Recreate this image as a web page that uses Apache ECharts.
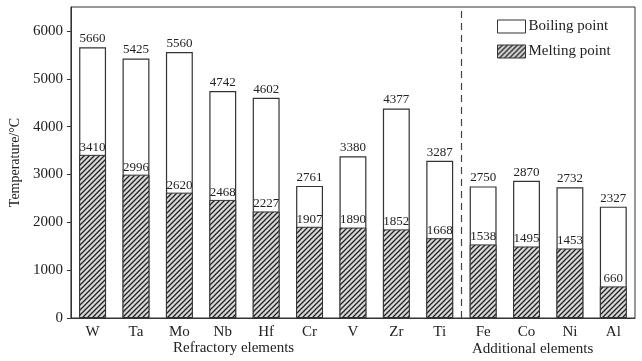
<!DOCTYPE html>
<html><head><meta charset="utf-8">
<script src="https://cdn.jsdelivr.net/npm/echarts@6/dist/echarts.min.js"></script>
<style>html,body{margin:0;padding:0;background:#fff}#c{width:642px;height:361px}</style>
</head><body><div id="c"></div>
<script>
const categories = ['W','Ta','Mo','Nb','Hf','Cr','V','Zr','Ti','Fe','Co','Ni','Al'];
const boiling = [5660,5425,5560,4742,4602,2761,3380,4377,3287,2750,2870,2732,2327];
const melting = [3410,2996,2620,2468,2227,1907,1890,1852,1668,1538,1495,1453,660];
const yTicks = [0,1000,2000,3000,4000,5000,6000];
const groupNames = ['Refractory elements','Additional elements'];
const dividerAt = 9;

const F = '"Liberation Serif", "Times New Roman", serif';
function hatch(){
  const c = document.createElement('canvas');
  c.width = 5; c.height = 5;
  const g = c.getContext('2d');
  g.fillStyle = '#d8d8d8'; g.fillRect(0,0,5,5);
  g.strokeStyle = '#222'; g.lineWidth = 1.3;
  g.beginPath();
  g.moveTo(-1,6); g.lineTo(6,-1);
  g.moveTo(-1,1); g.lineTo(1,-1);
  g.moveTo(4,6); g.lineTo(6,4);
  g.stroke();
  return c;
}
const pat = {image: hatch(), repeat: 'repeat'};

const chart = echarts.init(document.getElementById('c'));
chart.setOption({
  animation:false,
  backgroundColor:'#fff',
  grid:{left:67,right:7,top:7,bottom:43,show:true,borderColor:'#333',borderWidth:1,backgroundColor:'transparent'},
  legend:{
    left:492, top:14, orient:'vertical', itemWidth:28, itemHeight:13, itemGap:10, icon:'rect',
    textStyle:{fontFamily:F,fontSize:15,color:'#222',padding:[0,0,0,-2]},
    data:[{name:'Boiling point',itemStyle:{color:'#fff',borderColor:'#333',borderWidth:1}},
          {name:'Melting point',itemStyle:{color:pat,borderColor:'#333',borderWidth:1}}]
  },
  xAxis:[{
    type:'category', data:categories,
    axisLine:{lineStyle:{color:'#333'}},
    axisTick:{inside:true,length:4,alignWithLabel:true,lineStyle:{color:'#333'}},
    axisLabel:{fontFamily:F,fontSize:15,color:'#222',margin:7}
  },{
    type:'value', min:0, max:categories.length, show:false
  }],
  yAxis:{
    type:'value', min:0, max:6500, interval:1000,
    name:'Temperature/°C', nameLocation:'middle', nameGap:46,
    nameTextStyle:{fontFamily:F,fontSize:14,color:'#222'},
    axisLine:{show:true,lineStyle:{color:'#333'}},
    axisTick:{show:true,length:4,lineStyle:{color:'#333'}},
    axisLabel:{fontFamily:F,fontSize:15,color:'#222',showMaxLabel:false,
      formatter:v=>yTicks.includes(v)?String(v):''},
    splitLine:{show:false}
  },
  series:[
    {name:'Boiling point',type:'bar',data:boiling,barWidth:'62%',barGap:'-100%',
     itemStyle:{color:'#fff',borderColor:'#333',borderWidth:1.2},
     label:{show:true,position:'top',distance:2,fontFamily:F,fontSize:13,color:'#222'}},
    {name:'Melting point',type:'bar',data:melting,barWidth:'62%',
     itemStyle:{color:pat,borderColor:'#333',borderWidth:1},
     label:{show:true,position:'top',distance:1,fontFamily:F,fontSize:13,color:'#222'}},
    {type:'line',xAxisIndex:1,data:[],silent:true,
     markLine:{symbol:'none',silent:true,label:{show:false},
       lineStyle:{type:[7,5],color:'#444',width:1.2},
       data:[{xAxis:dividerAt}]}}
  ],
  graphic:[
    {type:'text',left:173,top:341,style:{text:groupNames[0],font:'15px '+F,fill:'#222'}},
    {type:'text',left:472,top:342,style:{text:groupNames[1],font:'15px '+F,fill:'#222'}}
  ]
});
</script></body></html>
